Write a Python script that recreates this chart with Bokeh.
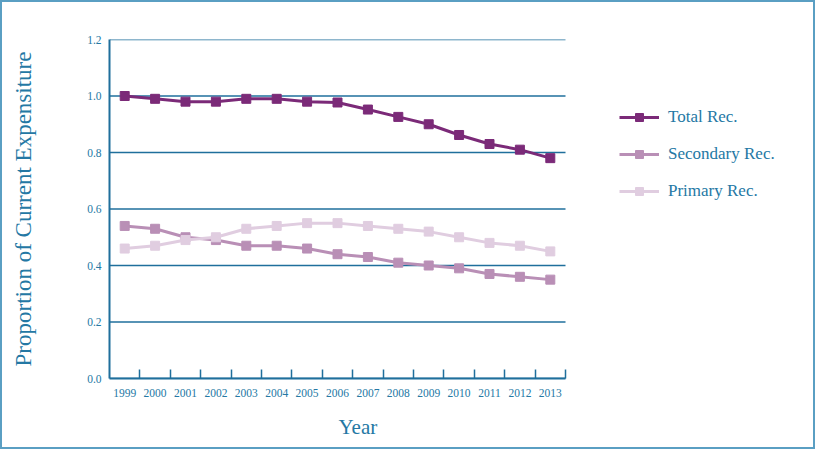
from bokeh.plotting import figure
from bokeh.models import (Range1d, FixedTicker, Legend, LegendItem, ColumnDataSource,
                          PrintfTickFormatter, Title)
from bokeh.embed import file_html
from bokeh.resources import INLINE

years = ["1999", "2000", "2001", "2002", "2003", "2004", "2005", "2006",
         "2007", "2008", "2009", "2010", "2011", "2012", "2013"]
total_rec = [1.00, 0.99, 0.98, 0.98, 0.99, 0.99, 0.98, 0.977, 0.952, 0.926, 0.90, 0.862, 0.83, 0.81, 0.78]
secondary_rec = [0.54, 0.53, 0.50, 0.49, 0.47, 0.47, 0.46, 0.44, 0.43, 0.41, 0.40, 0.39, 0.37, 0.36, 0.35]
primary_rec = [0.46, 0.47, 0.49, 0.50, 0.53, 0.54, 0.55, 0.55, 0.54, 0.53, 0.52, 0.50, 0.48, 0.47, 0.45]
y_ticks = [0.0, 0.2, 0.4, 0.6, 0.8, 1.0, 1.2]

series = [
    ("Total Rec.", total_rec, "#7b2a78"),
    ("Secondary Rec.", secondary_rec, "#b98fb6"),
    ("Primary Rec.", primary_rec, "#e0cde0"),
]

AX = "#1f6f9c"
TXT = "#2478a4"
FONT = "Liberation Serif"

W, H = 815, 449
LEFT, TOP, BOTTOM = 107, 37, 73
DATA_W = 456  # pixel width of the data area

n = len(years)
xs = list(range(n))
x0, x1 = -0.5, n - 0.5
px_per_unit = DATA_W / n
x_end = x0 + (W - LEFT) / px_per_unit

p = figure(width=W, height=H, output_backend="svg", toolbar_location=None,
           x_range=Range1d(x0, x_end), y_range=Range1d(0, 1.2),
           min_border_left=LEFT, min_border_right=0, min_border_top=TOP,
           min_border_bottom=BOTTOM)
p.styles = {"border": "2px solid #5a9fc3"}
p.outline_line_color = None
p.background_fill_color = "white"
p.border_fill_color = "white"

# grid lines limited to the data area
p.xgrid.grid_line_color = None
p.ygrid.grid_line_color = None
p.segment(x0=[x0] * len(y_ticks), x1=[x1] * len(y_ticks), y0=y_ticks, y1=y_ticks,
          line_color=AX, line_width=1.5)

# x axis
xa = p.xaxis[0]
xa.bounds = (x0, x1)
xa.ticker = FixedTicker(ticks=xs, minor_ticks=[i + 0.5 for i in range(n)])
xa.major_label_overrides = {i: y for i, y in enumerate(years)}
xa.major_tick_line_color = None
xa.major_tick_out = 0
xa.major_tick_in = 0
xa.minor_tick_line_color = AX
xa.minor_tick_line_width = 1.5
xa.minor_tick_in = 9
xa.minor_tick_out = 0
xa.axis_line_color = AX
xa.axis_line_width = 2
xa.major_label_standoff = 10
xa.major_label_text_font = FONT
xa.major_label_text_font_size = "11.5px"
xa.major_label_text_color = TXT

# x axis title, positioned under the data area
p.add_layout(Title(text="Year", align="left", offset=229, standoff=26,
                   text_font=FONT, text_font_size="21px", text_font_style="normal",
                   text_color=TXT), "below")

# y axis
ya = p.yaxis[0]
ya.ticker = FixedTicker(ticks=y_ticks)
ya.formatter = PrintfTickFormatter(format="%.1f")
ya.major_tick_line_color = None
ya.major_tick_out = 0
ya.major_tick_in = 0
ya.minor_tick_line_color = None
ya.axis_line_color = AX
ya.axis_line_width = 2
ya.major_label_standoff = 8
ya.major_label_text_font = FONT
ya.major_label_text_font_size = "11.5px"
ya.major_label_text_color = TXT
ya.axis_label = "Proportion of Current Expensiture"
ya.axis_label_text_font = FONT
ya.axis_label_text_font_size = "23px"
ya.axis_label_text_font_style = "normal"
ya.axis_label_text_color = TXT
ya.axis_label_standoff = 48

items = []
for name, vals, color in series:
    src = ColumnDataSource(dict(x=xs, y=vals))
    r1 = p.line("x", "y", source=src, line_color=color, line_width=3)
    r2 = p.scatter("x", "y", source=src, marker="square", size=9,
                   fill_color=color, line_color=color, line_width=1)
    items.append(LegendItem(label=name, renderers=[r1, r2]))

legend = Legend(items=items, location=(510, 177), orientation="vertical",
                glyph_width=40, glyph_height=20, spacing=17, padding=0,
                margin=0, label_standoff=9, border_line_color=None,
                background_fill_alpha=0, label_text_font=FONT,
                label_text_font_size="17px", label_text_color=TXT)
p.add_layout(legend, "center")

open("out.html", "w").write(file_html(p, INLINE))
